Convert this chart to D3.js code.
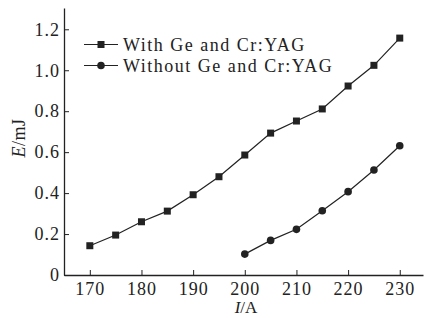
<!DOCTYPE html>
<html>
<head>
<meta charset="utf-8">
<script src="https://cdn.jsdelivr.net/npm/d3@7"></script>
<style>
  body { margin: 0; background: #fff; }
  text { font-family: "Liberation Serif", "DejaVu Serif", serif; fill: #222; }
</style>
</head>
<body>
<svg id="chart" width="425" height="318"></svg>
<script>
// data
var current = [170, 175, 180, 185, 190, 195, 200, 205, 210, 215, 220, 225, 230];
var energyWith = [0.143, 0.195, 0.260, 0.312, 0.392, 0.480, 0.586, 0.693, 0.752, 0.811, 0.923, 1.024, 1.157];
var currentWithout = [200, 205, 210, 215, 220, 225, 230];
var energyWithout = [0.102, 0.169, 0.223, 0.314, 0.407, 0.513, 0.631];
var xTicks = [170, 180, 190, 200, 210, 220, 230];
var yTicks = [0, 0.2, 0.4, 0.6, 0.8, 1.0, 1.2];
var legendLabels = ["With Ge and Cr:YAG", "Without Ge and Cr:YAG"];

var svg = d3.select("#chart");
var ink = "#222";

var x = d3.scaleLinear().domain([165, 234.5]).range([64, 423]);
var y = d3.scaleLinear().domain([0, 1.304]).range([275, 8]);

//****************************************************************************************************************************//
// Axes

var xAxis = svg.append("g")
	.attr("transform", "translate(0," + y(0) + ")")
	.call(d3.axisBottom(x).tickValues(xTicks).tickSizeInner(-5).tickSizeOuter(0).tickPadding(7).tickFormat(d3.format("d")));

var yAxis = svg.append("g")
	.attr("transform", "translate(" + x(165) + ",0)")
	.call(d3.axisLeft(y).tickValues(yTicks).tickSizeInner(-5).tickSizeOuter(0).tickPadding(4)
		.tickFormat(function(d){ return d === 0 ? "0" : d3.format(".1f")(d); }));

[xAxis, yAxis].forEach(function(a){
	a.select(".domain").attr("stroke", ink).attr("stroke-width", 1.3);
	a.selectAll(".tick line").attr("stroke", ink).attr("stroke-width", 1);
	a.selectAll(".tick text")
		.style("font-family", "'Liberation Serif', serif")
		.style("font-size", "18px")
		.style("letter-spacing", "1px")
		.attr("fill", ink);
});

// axis titles
var xTitle = svg.append("text")
	.attr("x", 246)
	.attr("y", 313)
	.attr("text-anchor", "middle")
	.style("font-size", "17px");
xTitle.append("tspan").attr("font-style", "italic").text("I");
xTitle.append("tspan").text("/A");

var yTitle = svg.append("text")
	.attr("transform", "translate(25,138) rotate(-90)")
	.attr("text-anchor", "middle")
	.style("font-size", "18px")
	.style("letter-spacing", "0.5px");
yTitle.append("tspan").attr("font-style", "italic").text("E");
yTitle.append("tspan").text("/mJ");

//****************************************************************************************************************************//
// Series

var withPts = current.map(function(c, i){ return [c, energyWith[i]]; });
var withoutPts = currentWithout.map(function(c, i){ return [c, energyWithout[i]]; });

var line = d3.line().x(function(d){ return x(d[0]); }).y(function(d){ return y(d[1]); });

svg.append("path").datum(withPts)
	.attr("d", line).attr("fill", "none").attr("stroke", ink).attr("stroke-width", 1.2);
svg.append("path").datum(withoutPts)
	.attr("d", line).attr("fill", "none").attr("stroke", ink).attr("stroke-width", 1.2);

svg.selectAll(".sq").data(withPts).enter().append("rect")
	.attr("x", function(d){ return x(d[0]) - 3.5; })
	.attr("y", function(d){ return y(d[1]) - 3.5; })
	.attr("width", 7).attr("height", 7)
	.attr("fill", ink);

svg.selectAll(".dot").data(withoutPts).enter().append("circle")
	.attr("cx", function(d){ return x(d[0]); })
	.attr("cy", function(d){ return y(d[1]); })
	.attr("r", 3.8)
	.attr("fill", ink);

//****************************************************************************************************************************//
// Legend

var legend = svg.append("g");
legendLabels.forEach(function(label, i){
	var ly = 44.5 + i * 21;
	legend.append("line")
		.attr("x1", 84).attr("x2", 118).attr("y1", ly).attr("y2", ly)
		.attr("stroke", ink).attr("stroke-width", 1.2);
	if (i === 0) {
		legend.append("rect").attr("x", 97.5).attr("y", ly - 3.5).attr("width", 7).attr("height", 7).attr("fill", ink);
	} else {
		legend.append("circle").attr("cx", 101).attr("cy", ly).attr("r", 3.8).attr("fill", ink);
	}
	legend.append("text")
		.attr("x", 123)
		.attr("y", ly + 6)
		.style("font-size", "18px")
		.style("letter-spacing", "1.5px")
		.text(label);
});
</script>
</body>
</html>
